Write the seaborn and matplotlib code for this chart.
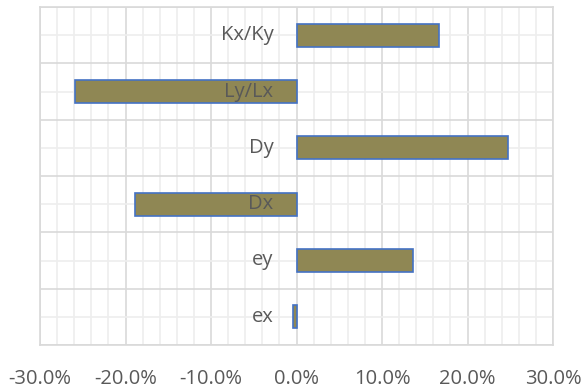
import matplotlib
matplotlib.use("Agg")
import matplotlib.pyplot as plt
import matplotlib.ticker as mticker
import seaborn as sns
import numpy as np
import pandas as pd

# Dados
categorias = ["Kx/Ky", "Ly/Lx", "Dy", "Dx", "ey", "ex"]
variacao = [16.7, -25.9, 24.7, -18.9, 13.6, -0.4]

df = pd.DataFrame({"parametro": categorias, "variacao": variacao})

sns.set_style("white")
plt.rcParams["font.family"] = ["Open Sans", "DejaVu Sans"]

fig = plt.figure(figsize=(5.83, 3.91), dpi=100)
ax = fig.add_axes([40 / 583, 1 - 345 / 391, 513 / 583, 338 / 391])

sns.barplot(data=df, x="variacao", y="parametro", orient="h", order=categorias,
            color="#8F8754", saturation=1, width=0.41,
            edgecolor="#4472C4", linewidth=1.2, ax=ax, zorder=3)

ax.set_xlim(-30, 30)
ax.set_ylim(len(categorias) - 0.5, -0.5)

# grade principal e secundária
ax.xaxis.set_major_locator(mticker.MultipleLocator(10))
ax.xaxis.set_minor_locator(mticker.MultipleLocator(2))
ax.set_yticks(np.arange(-0.5, len(categorias), 1))
ax.set_yticks(np.arange(0, len(categorias), 1), minor=True)
ax.grid(which="major", color="#D9D9D9", linewidth=1.2, zorder=0)
ax.grid(which="minor", color="#EEEEEE", linewidth=1.2, zorder=0)
ax.set_axisbelow(True)

ax.xaxis.set_major_formatter(mticker.FuncFormatter(lambda v, p: f"{v:.1f}%"))
ax.tick_params(axis="x", which="both", length=0, labelsize=14.5,
               labelcolor="#595959", pad=17)
ax.tick_params(axis="y", which="both", length=0, labelleft=False)
ax.set_xlabel("")
ax.set_ylabel("")

for s in ax.spines.values():
    s.set_color("#D9D9D9")
    s.set_linewidth(1.2)

# rótulos das categorias junto ao eixo zero
for i, nome in enumerate(categorias):
    ax.annotate(nome, xy=(0, i), xytext=(-23, 0), textcoords="offset pixels",
                ha="right", va="center", fontsize=14.5, color="#595959", zorder=5)

fig.savefig("out.png", dpi=100)
